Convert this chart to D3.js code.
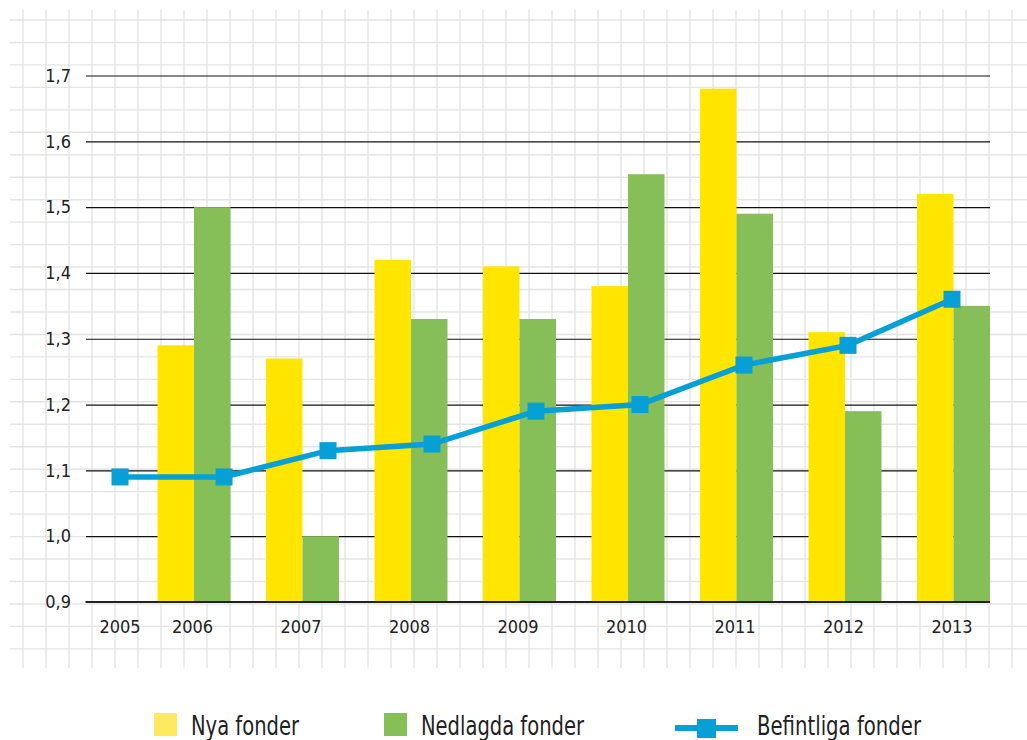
<!DOCTYPE html>
<meta charset="utf-8">
<script src="https://d3js.org/d3.v7.min.js"></script>
<style>
  body { margin: 0; background: #fff; }
  text { font-family: "Liberation Sans Narrow", "DejaVu Sans Condensed", "Liberation Sans", sans-serif; fill: #222; }
</style>
<div id="my_dataviz"></div>
<script>

// data
var years = ["2005", "2006", "2007", "2008", "2009", "2010", "2011", "2012", "2013"];
var nyaFonder      = [null, 1.29, 1.27, 1.42, 1.41, 1.38, 1.68, 1.31, 1.52];
var nedlagdaFonder = [null, 1.50, 1.00, 1.33, 1.33, 1.55, 1.49, 1.19, 1.35];
var befintliga     = [1.09, 1.09, 1.13, 1.14, 1.19, 1.20, 1.26, 1.29, 1.36];
var yTicks = [0.9, 1.0, 1.1, 1.2, 1.3, 1.4, 1.5, 1.6, 1.7];
var seriesNames = ["Nya fonder", "Nedlagda fonder", "Befintliga fonder"];

var W = 1027, H = 740;

var svg = d3.select("#my_dataviz")
  .append("svg")
    .attr("width", W)
    .attr("height", H);

// background squared paper
var grid = svg.append("g").attr("stroke", "#e4e4e4").attr("stroke-width", 1.4);
d3.range(23, 1020, 23).forEach(function(x) {
  grid.append("line").attr("x1", x).attr("x2", x).attr("y1", 10).attr("y2", 668);
});
d3.range(0, 29).forEach(function(i) {
  var y = 20 + i * 22.46;
  grid.append("line").attr("x1", 10).attr("x2", W).attr("y1", y).attr("y2", y);
});

// scales
var x = d3.scalePoint().domain(years).range([85.5, 953.5]);   // bar groups
var xLine = d3.scalePoint().domain(years).range([120, 952]);  // line series
var y = d3.scaleLinear().domain([0.9, 1.7]).range([602, 75.5]);
var barW = 36.5;

// Y axis + gridlines
var yAxis = svg.append("g")
  .attr("transform", "translate(990,0)")
  .call(d3.axisLeft(y).tickValues(yTicks).tickSize(904).tickPadding(15)
    .tickFormat(function(d) { return d.toFixed(1).replace(".", ","); }));
yAxis.select(".domain").remove();
yAxis.selectAll("line").attr("stroke", "#111").attr("stroke-width", 1.2);
yAxis.selectAll("text").style("font-size", "18px").attr("fill", "#222");

// bars
var rows = years.map(function(yr, i) { return {year: yr, nya: nyaFonder[i], ned: nedlagdaFonder[i], bef: befintliga[i]}; });
var barData = rows.filter(function(d) { return d.nya != null; });

svg.selectAll("rect.nya")
  .data(barData)
  .enter()
  .append("rect")
    .attr("class", "nya")
    .attr("x", function(d) { return x(d.year) - barW; })
    .attr("y", function(d) { return y(d.nya); })
    .attr("width", barW)
    .attr("height", function(d) { return y(0.9) - y(d.nya); })
    .style("fill", "#FFE500");

svg.selectAll("rect.ned")
  .data(barData)
  .enter()
  .append("rect")
    .attr("class", "ned")
    .attr("x", function(d) { return x(d.year); })
    .attr("y", function(d) { return y(d.ned); })
    .attr("width", barW)
    .attr("height", function(d) { return y(0.9) - y(d.ned); })
    .style("fill", "#86BE57");

// baseline
svg.append("line")
  .attr("x1", 85.5).attr("x2", 990)
  .attr("y1", y(0.9)).attr("y2", y(0.9))
  .attr("stroke", "#222").attr("stroke-width", 2);

// X labels
var xAxis = svg.append("g")
  .attr("transform", "translate(0," + y(0.9) + ")")
  .call(d3.axisBottom(x).tickSize(0).tickPadding(18));
xAxis.select(".domain").remove();
xAxis.selectAll(".tick")
  .attr("transform", function(d) { return "translate(" + (d === "2005" ? xLine(d) : x(d) - 1.5) + ",0)"; });
xAxis.selectAll("text").style("font-size", "18px").attr("fill", "#222");

// line
var blue = "#06A0D6";
svg.append("path")
  .datum(rows)
  .attr("fill", "none")
  .attr("stroke", blue)
  .attr("stroke-width", 5.5)
  .attr("d", d3.line()
    .x(function(d) { return xLine(d.year); })
    .y(function(d) { return y(d.bef); }));

svg.selectAll("rect.mark")
  .data(rows)
  .enter()
  .append("rect")
    .attr("class", "mark")
    .attr("x", function(d) { return xLine(d.year) - 8.5; })
    .attr("y", function(d) { return y(d.bef) - 8.5; })
    .attr("width", 17)
    .attr("height", 17)
    .style("fill", blue);

// legend
var leg = svg.append("g");
leg.append("rect").attr("x", 154).attr("y", 713).attr("width", 23).attr("height", 23).style("fill", "#FFE95F");
leg.append("text").attr("x", 191).attr("y", 735).text(seriesNames[0]).style("font-size", "26px")
  .attr("textLength", 108).attr("lengthAdjust", "spacingAndGlyphs");
leg.append("rect").attr("x", 384).attr("y", 713).attr("width", 23).attr("height", 23).style("fill", "#86BF55");
leg.append("text").attr("x", 421).attr("y", 735).text(seriesNames[1]).style("font-size", "26px")
  .attr("textLength", 163).attr("lengthAdjust", "spacingAndGlyphs");
leg.append("line").attr("x1", 675).attr("x2", 738).attr("y1", 728).attr("y2", 728).attr("stroke", blue).attr("stroke-width", 6);
leg.append("rect").attr("x", 697).attr("y", 719).attr("width", 19).attr("height", 19).style("fill", blue);
leg.append("text").attr("x", 757).attr("y", 735).text(seriesNames[2]).style("font-size", "26px")
  .attr("textLength", 164).attr("lengthAdjust", "spacingAndGlyphs");

</script>
